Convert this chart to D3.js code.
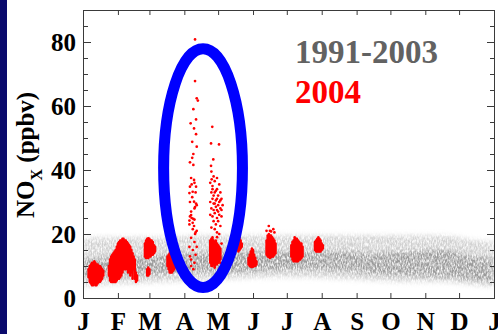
<!DOCTYPE html>
<html>
<head>
<meta charset="utf-8">
<script src="https://cdn.jsdelivr.net/npm/d3@7/dist/d3.min.js"></script>
<style>
  html, body { margin: 0; padding: 0; background: #ffffff; }
  svg { display: block; }
  text { font-family: "Liberation Serif", "Times New Roman", serif; font-weight: bold; }
</style>
</head>
<body>
<svg id="chart" width="498" height="334"></svg>
<script>
// ---- data -------------------------------------------------------------
const monthLabels = ["J", "F", "M", "A", "M", "J", "J", "A", "S", "O", "N", "D", "J"];
const monthStarts = [0, 31, 59, 90, 120, 151, 181, 212, 243, 273, 304, 334, 365];
const yMajorTicks = [0, 20, 40, 60, 80];
const yMinorTicks = [5, 10, 15, 25, 30, 35, 45, 50, 55, 65, 70, 75, 85];

// 1991-2003 climatology: spread of NOx by day of year (ppbv)
const bandDay  = [0,   15,  45,  74,  105, 135, 166, 196, 227, 258, 288, 319, 349, 365];
const bandLow  = [3.5, 4,   4.5, 5,   5.5, 6,   6.5, 6.5, 6,   5.5, 5,   5,   4,   3.5];
const bandQ1   = [6,   6.5, 7,   7.5, 8,   8,   8.5, 9,   8.5, 7.5, 7,   6.5, 5.5, 5];
const bandQ3   = [12,  12.5,13,  13.5,14,  14.5,14.5,14.5,14.5,14,  14.5,15,  13,  12.5];
const bandHigh = [18.5,19,  19,  19,  19.5,19.5,19.5,19.5,19.5,19.5,19.5,19.5,18,  17.5];

// 2004: daily range of the dense measurement clusters [day, min, max]
const dailyRange2004 = [
  [5,6.5,9],[6,5,10],[7,4.5,10.5],[8,4,11],[9,4,11],[10,4.5,11.5],[11,4,11],[12,4,10.5],
  [13,4.5,10.5],[14,5,10],[15,5,10],[16,5.5,9.5],[17,6,9],[18,7,8.5],
  [23,7,10],[24,5.5,12],[25,5,13],[26,5,13.5],[27,5,14],[28,5,14.5],[29,5,15],[30,5.5,16],
  [31,6,17],[32,6,17.5],[33,6.5,18],[34,7,18],[35,8,18.5],[36,9,18.5],[37,9,18],[38,9,18],
  [39,9.5,17.5],[40,8,17],[41,8.5,16.5],[42,7,16],[43,8,15],[44,6,14],[45,9,13],[46,6,12],
  [47,5,8],[48,5.5,7],
  [55,13,17],[56,12.5,18],[57,12.5,18.5],[58,12.5,18.7],[59,13,18.5],[60,13,18],[61,13.5,18],
  [62,13.5,17.5],[63,14,16.5],[64,14.5,16],[57,7,9],[58,7,9.5],[59,7.5,9],
  [75,10,13],[76,9,13.5],[77,8,14],[78,8,14.5],[79,8,14],[80,8.5,13.5],[81,9,13],[82,9.5,12.5],
  [113,11,18],[114,10,18.5],[115,10,19],[116,10.5,18],[117,10,17.5],[118,11,18],[119,10.5,17],
  [120,11,16.5],[121,11.5,16],[122,12,15.5],
  [137,15,17],[138,14.5,18.5],[139,15,19],[140,15.5,18],[141,16,17],
  [147,10.5,12.5],[148,10,13.5],[149,9.8,14.5],[150,9.7,15.5],[151,9.8,15],[152,10,13.5],
  [153,10,12.5],[154,10.5,11.5],
  [163,13.5,18],[164,13,19.5],[165,12.8,20],[166,12.5,19.5],[167,12.8,19.5],[168,13,19],
  [169,13,18.5],[170,13.5,18],[171,14,17],
  [185,13,16.5],[186,12,17.5],[187,11.5,18],[188,11.5,19],[189,11.5,18.5],[190,11.5,18.5],
  [191,11.5,18],[192,12,17.5],[193,12,17],[194,12.5,17],[195,13,16],
  [206,15,17.5],[207,14.5,18],[208,14.5,18.5],[209,14.5,19],[210,14.5,18.5],[211,14.5,18],
  [212,15,17],[213,15.5,16.5]
];

// 2004: individual samples [day, ppbv]
const samples2004 = [
  // early-April plume
  [99.5,80.8],[99.5,67.8],[101,62.4],[102,61.7],[98,59],[100.4,55.8],[95.6,54.6],[98.6,53],
  [100.4,51.2],[97,48.8],[101,47.3],[98,45],[97,43.8],[95,42.4],[98,41.6],[96,37.5],[99,36],
  [98.6,36.9],[96.5,35.5],[95,34.8],[100.4,34.8],[97.4,33.2],[94.5,32.8],[100,33],[97,31.5],
  [95,30],[98.6,30.1],[100.4,29.5],[101,29],[99.5,28.4],[99,28],[96,27],[96,25.9],[95,25.5],
  [96.5,25],[98,24.7],[99,24.5],[94.5,24.2],[97.4,23.5],[94.5,23],[98.6,22.5],[97.5,21.5],
  [101,21],[100,20.5],[99.5,20],[96,18.8],[99,17.5],[94.5,16],[97.5,15],[100,13.5],[96,12],
  [99,11],[96,10],[98,9],[95,13],[101,16],
  // late-April plume
  [114.8,53.5],[113.7,48.3],[120.8,48],[115.7,43.3],[113.7,41.3],[114.3,37.1],
  [114,39.5],[116,38],[119,37.5],
  [113,36],[115,35],[117,36.5],[119,34],[121,35.5],[114,33],[116,32],[118,33.5],[120,32],
  [122,33],[113,30],[115,31],[117,29.5],[119,31],[121,30],[123,31],[114,28],[116,27.5],
  [118,28.5],[120,27],[122,28],[113,26],[115,25.5],[117,26.5],[119,25],[121,26],[123,25.5],
  [116,24],[118,23],[120,24],[122,22.5],[117,21.5],[119,20.5],[121,20],[114,22],[123,27.5],
  [124,29],[115,34],[118,30.5],[120,29],[116,29.5],[122,30.5],[119,27.5],[117,33],
  [119,19],[123,17],[122,11],[117,9.5],
  // late-June outliers
  [165,22.5],[163,21],[167,20.8],[169,21.5],[166,21],[170,20.5]
];

// annotation ellipse around the April plumes (day, ppbv)
const highlightCenter = [106.6, 40.6];
const highlightHalfSize = [35, 37.3];

const legendItems = [
  { label: "1991-2003", color: "#626262" },
  { label: "2004", color: "#ff0000" }
];

// ---- layout -----------------------------------------------------------
const svg = d3.select("#chart");
const plot = { left: 83, top: 10, right: 494, bottom: 298 };

const x = d3.scaleLinear().domain([0, 365]).range([plot.left, plot.right]);
const y = d3.scaleLinear().domain([0, 90]).range([plot.bottom, plot.top]);

// dark slide edge on the left
svg.append("rect").attr("x", 0).attr("y", 0).attr("width", 7).attr("height", 334)
  .attr("fill", "#0a0a6c");

// ---- grain filter for the climatology cloud ---------------------------
const defs = svg.append("defs");
const clip = defs.append("clipPath").attr("id", "plotClip");
clip.append("rect").attr("x", plot.left).attr("y", plot.top)
  .attr("width", plot.right - plot.left).attr("height", plot.bottom - plot.top);

const grain = defs.append("filter").attr("id", "grain")
  .attr("filterUnits", "userSpaceOnUse")
  .attr("x", plot.left).attr("y", plot.top)
  .attr("width", plot.right - plot.left).attr("height", plot.bottom - plot.top);
grain.append("feGaussianBlur").attr("in", "SourceGraphic").attr("stdDeviation", 2.4).attr("result", "soft");
grain.append("feTurbulence").attr("type", "fractalNoise").attr("baseFrequency", "0.8 0.3")
  .attr("numOctaves", 2).attr("seed", 11).attr("result", "noise");
grain.append("feColorMatrix").attr("in", "noise").attr("type", "matrix")
  .attr("values", "0 0 0 0 0  0 0 0 0 0  0 0 0 0 0  2.0 0 0 0 -0.35").attr("result", "mask");
grain.append("feComposite").attr("in", "soft").attr("in2", "mask").attr("operator", "in");

// ---- 1991-2003 cloud --------------------------------------------------
const bandRows = bandDay.map((d, i) => ({
  day: d, low: bandLow[i], q1: bandQ1[i], q3: bandQ3[i], high: bandHigh[i]
}));

const cloud = svg.append("g").attr("clip-path", "url(#plotClip)").append("g").attr("filter", "url(#grain)");
cloud.append("path").datum(bandRows)
  .attr("d", d3.area().curve(d3.curveMonotoneX)
    .x(d => x(d.day)).y0(d => y(d.low)).y1(d => y(d.high)))
  .attr("fill", "#c4c4c4").attr("fill-opacity", 0.8);
cloud.append("path").datum(bandRows)
  .attr("d", d3.area().curve(d3.curveMonotoneX)
    .x(d => x(d.day)).y0(d => y(d.q1)).y1(d => y(d.q3)))
  .attr("fill", "#8a8a8a").attr("fill-opacity", 0.75);

// ---- 2004 observations ------------------------------------------------
const red = legendItems[1].color;
svg.append("g").selectAll("line").data(dailyRange2004).join("line")
  .attr("x1", d => x(d[0])).attr("x2", d => x(d[0]))
  .attr("y1", d => y(d[1])).attr("y2", d => y(d[2]))
  .attr("stroke", red).attr("stroke-width", 2.5).attr("stroke-linecap", "round");

svg.append("g").selectAll("circle").data(samples2004).join("circle")
  .attr("cx", d => x(d[0])).attr("cy", d => y(d[1])).attr("r", 1.35)
  .attr("fill", red);

// ---- axes -------------------------------------------------------------
function styleAxis(g) {
  g.selectAll(".domain").attr("stroke", "#3a3a3a").attr("stroke-width", 1);
  g.selectAll(".tick line").attr("stroke", "#3a3a3a");
  g.selectAll("text").attr("fill", "#000").attr("font-size", 25)
    .attr("font-family", "Liberation Serif, Times New Roman, serif").attr("font-weight", "bold");
}

svg.append("g").attr("transform", `translate(${plot.left},0)`)
  .call(d3.axisLeft(y).tickValues(yMinorTicks).tickSize(-5).tickFormat(""))
  .call(styleAxis);
svg.append("g").attr("transform", `translate(${plot.left},0)`)
  .call(d3.axisLeft(y).tickValues(yMajorTicks).tickSize(-8).tickPadding(7).tickFormat(d3.format("d")))
  .call(styleAxis);

svg.append("g").attr("transform", `translate(${plot.right},0)`)
  .call(d3.axisRight(y).tickValues(yMinorTicks).tickSize(-4).tickFormat(""))
  .call(styleAxis);
svg.append("g").attr("transform", `translate(${plot.right},0)`)
  .call(d3.axisRight(y).tickValues(yMajorTicks).tickSize(-7).tickFormat(""))
  .call(styleAxis);

svg.append("g").attr("transform", `translate(0,${plot.top})`)
  .call(d3.axisTop(x).tickValues(monthStarts).tickSize(-5).tickFormat(""))
  .call(styleAxis);

svg.append("g").attr("transform", `translate(0,${plot.bottom})`)
  .call(d3.axisBottom(x).tickValues(monthStarts).tickSize(-5).tickPadding(14)
    .tickFormat((d, i) => monthLabels[i]))
  .call(styleAxis);

// ---- highlight ellipse --------------------------------------------------
svg.append("ellipse")
  .attr("cx", x(highlightCenter[0])).attr("cy", y(highlightCenter[1]))
  .attr("rx", x(highlightCenter[0] + highlightHalfSize[0]) - x(highlightCenter[0]))
  .attr("ry", y(highlightCenter[1] - highlightHalfSize[1]) - y(highlightCenter[1]))
  .attr("fill", "none").attr("stroke", "#0000ff").attr("stroke-width", 11);

// ---- legend -------------------------------------------------------------
svg.append("g").selectAll("text").data(legendItems).join("text")
  .attr("x", 295).attr("y", (d, i) => 63 + i * 40)
  .attr("font-size", 33).attr("fill", d => d.color)
  .text(d => d.label);

// ---- y-axis title -------------------------------------------------------
const title = svg.append("text").attr("transform", "translate(34,218) rotate(-90)")
  .attr("font-size", 25).attr("fill", "#000");
title.append("tspan").text("NO");
title.append("tspan").attr("font-size", 16).attr("dy", 8).text("X");
title.append("tspan").attr("dy", -8).text(" (ppbv)");
</script>
</body>
</html>
